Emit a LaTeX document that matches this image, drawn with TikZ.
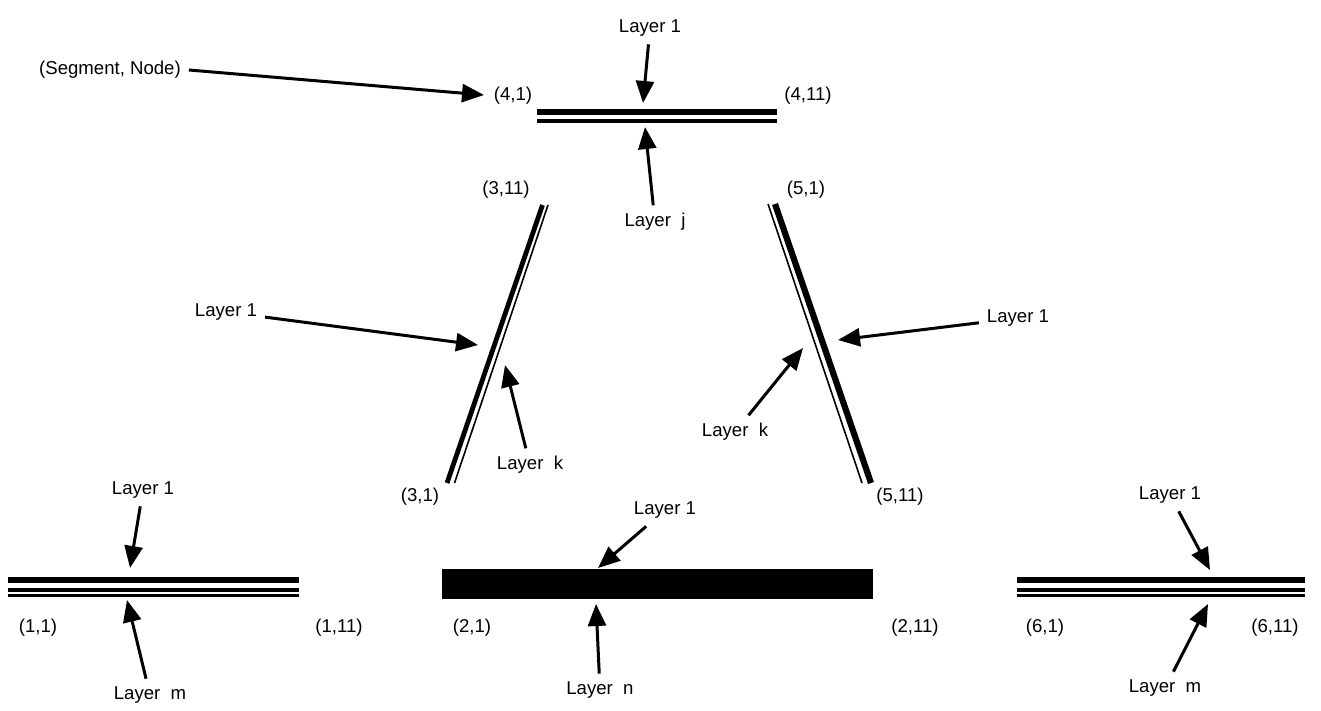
\documentclass[tikz,border=0pt]{standalone}
\usepackage{fontspec}
\setmainfont{Liberation Sans}
\usetikzlibrary{arrows.meta, positioning}

\begin{document}
\begin{tikzpicture}[x=0.5pt, y=-0.5pt,
    lbl/.style={inner sep=1pt, outer sep=3pt, font=\fontsize{9.3}{11}\selectfont},
    callout/.style={-{Triangle[length=11pt,width=9pt]}, line width=1.5pt}]
        \useasboundingbox (0,0) rectangle (1321,711);

        % Draw segment 4 (top)
        \draw[line width=3pt] (537,112) -- (777,112);
        \draw[line width=2pt] (537,121) -- (777,121);

        % Draw segments 3 and 5 (slanted)
        \draw[line width=2.4pt] (542.5,205) -- (447,483);
        \draw[line width=0.8pt] (548,205) -- (454.5,483);
        \draw[line width=0.8pt] (768,204) -- (862,483);
        \draw[line width=3.1pt] (775,204) -- (871,483);

        % Draw segments 1 and 6 (bottom)
        \foreach \x/\xx in {8/299, 1017/1305} {
            \draw[line width=3pt] (\x,580) -- (\xx,580);
            \draw[line width=2pt] (\x,590) -- (\xx,590);
            \draw[line width=1.3pt] (\x,595.5) -- (\xx,595.5);
        }

        % Draw segment 2 (many layers)
        \foreach \y in {572,578,584,590,596}
            \draw[line width=2.85pt] (442,\y) -- (873,\y);

        % Segment, node labels
        \node[lbl] (n41) at (513,96) {(4,1)};
        \node[lbl] (n411) at (808,96) {(4,11)};
        \node[lbl] (n311) at (506,190) {(3,11)};
        \node[lbl] (n51) at (806,190) {(5,1)};
        \node[lbl] (n31) at (420,497) {(3,1)};
        \node[lbl] (n511) at (900,497) {(5,11)};
        \node[lbl] (n11) at (38,628) {(1,1)};
        \node[lbl] (n111) at (339,628) {(1,11)};
        \node[lbl] (n21) at (472,628) {(2,1)};
        \node[lbl] (n211) at (915,628) {(2,11)};
        \node[lbl] (n61) at (1045,628) {(6,1)};
        \node[lbl] (n611) at (1275,628) {(6,11)};

        % Layer labels
        \node[lbl] (seg) at (110,70) {(Segment, Node)};
        \node[lbl] (ltop) at (650,28) {Layer 1};
        \node[lbl] (ltopj) at (655,222) {Layer~~j};
        \node[lbl] (lleft) at (226,312) {Layer 1};
        \node[lbl] (lleftk) at (530,465) {Layer~~k};
        \node[lbl] (lright) at (1018,318) {Layer 1};
        \node[lbl] (lrightk) at (735,432) {Layer~~k};
        \node[lbl] (lbl1) at (143,490) {Layer 1};
        \node[lbl] (lblm) at (150,695) {Layer~~m};
        \node[lbl] (lbm1) at (665,510) {Layer 1};
        \node[lbl] (lbmn) at (600,690) {Layer~~n};
        \node[lbl] (lbr1) at (1170,495) {Layer 1};
        \node[lbl] (lbrm) at (1165,688) {Layer~~m};

        % Arrow tips
        \coordinate (tseg) at (484,95);
        \coordinate (tltop) at (643,103);
        \coordinate (tltopj) at (645,127);
        \coordinate (tlleft) at (478,345);
        \coordinate (tlleftk) at (505,365);
        \coordinate (tlright) at (838,340);
        \coordinate (tlrightk) at (803,348);
        \coordinate (tlbl1) at (130,568);
        \coordinate (tlblm) at (127,600);
        \coordinate (tlbm1) at (598,568);
        \coordinate (tlbmn) at (596,604);
        \coordinate (tlbr1) at (1210,570);
        \coordinate (tlbrm) at (1208,604);

        % Draw arrows
        \draw[callout] (seg.east) -- (tseg);
        \foreach \n in {ltop,ltopj,lleft,lleftk,lright,lrightk,lbl1,lblm,lbm1,lbmn,lbr1,lbrm}
            \draw[callout] (\n) -- (t\n);

    \end{tikzpicture}
\end{document}
